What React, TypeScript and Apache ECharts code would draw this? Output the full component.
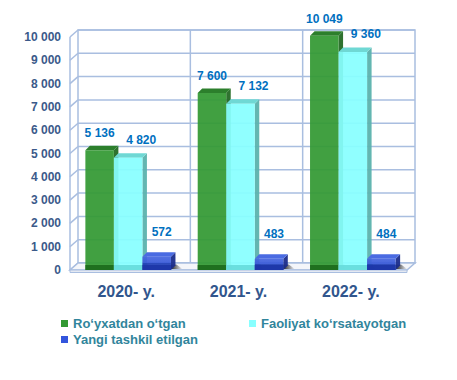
import React, { useEffect, useRef } from "react";
import * as echarts from "echarts";

const categories = ["2020- y.", "2021- y.", "2022- y."];
const registered = [5136, 7600, 10049];
const active = [4820, 7132, 9360];
const created = [572, 483, 484];
const seriesNames = ["Ro‘yxatdan o‘tgan", "Faoliyat ko‘rsatayotgan", "Yangi tashkil etilgan"];
const yTicks = [0, 1000, 2000, 3000, 4000, 5000, 6000, 7000, 8000, 9000, 10000];

const fmt = (v: number) => String(v).replace(/\B(?=(\d{3})+(?!\d))/g, " ");

const GRID = "#a9bee0";
const BACK_DX = 8;
const BACK_DY = 7;

const barStyles = [
  { front: "#339933", top: "#2c7f2c", side: "#246a24", bottom: "#1c6a1c", lx: 0, ly: 17 },
  { front: "#88ffff", top: "#6fd8d4", side: "#5bb2ad", bottom: "#66dcdc", lx: 13, ly: 18 },
  { front: "#2a4bcc", top: "#4a6be2", side: "#1b2d8c", bottom: "#1d36a8", lx: 5, ly: 25 },
];

export default function App() {
  const ref = useRef<HTMLDivElement>(null);
  useEffect(() => {
    if (!ref.current) return;
    const chart = echarts.init(ref.current, undefined, { renderer: "svg" });

    const wallsSeries: any = {
      type: "custom",
      name: "walls",
      silent: true,
      clip: false,
      z: 1,
      encode: { x: 0, y: 1 },
      data: yTicks.map((v) => [0, v]),
      renderItem: (params: any, api: any) => {
        const cs = params.coordSys;
        const v = api.value(1);
        const y = api.coord([0, v])[1];
        const x0 = cs.x;
        const x1 = cs.x + cs.width;
        const children: any[] = [];
        const ls = { stroke: GRID, lineWidth: 1.5 };
        if (params.dataIndex === 0) {
          children.push({
            type: "rect",
            shape: { x: x0 + BACK_DX, y: cs.y - BACK_DY, width: cs.width, height: cs.height },
            style: { fill: "#ffffff", stroke: GRID, lineWidth: 1.5 },
          });
          children.push({ type: "line", shape: { x1: x0, y1: cs.y, x2: x0, y2: cs.y + cs.height }, style: ls });
          for (let i = 1; i < categories.length; i++) {
            const xx = x0 + (cs.width * i) / categories.length + BACK_DX;
            children.push({ type: "line", shape: { x1: xx, y1: cs.y - BACK_DY, x2: xx, y2: cs.y + cs.height - BACK_DY }, style: ls });
          }
        }
        children.push({ type: "line", shape: { x1: x0 + BACK_DX, y1: y - BACK_DY, x2: x1 + BACK_DX, y2: y - BACK_DY }, style: ls });
        children.push({ type: "line", shape: { x1: x0, y1: y, x2: x0 + BACK_DX, y2: y - BACK_DY }, style: ls });
        if (v === 0) {
          const yb = y;
          children.push({
            type: "polygon",
            shape: { points: [[x0, yb], [x1, yb], [x1 + BACK_DX, yb - BACK_DY], [x0 + BACK_DX, yb - BACK_DY]] },
            style: { fill: "#f4f6fa", stroke: GRID, lineWidth: 1.5 },
          });
          children.push({
            type: "rect",
            shape: { x: x0, y: yb, width: cs.width, height: 2.5 },
            style: { fill: "#e4e9f2", stroke: GRID, lineWidth: 1 },
          });
        }
        return { type: "group", children };
      },
    };

    const makeBar = (k: number, values: number[]) => {
      const st = barStyles[k];
      return {
        type: "custom",
        name: seriesNames[k],
        clip: false,
        z: 2 + k,
        encode: { x: 0, y: 1 },
        itemStyle: { color: st.front },
        data: values.map((v, i) => [i, v]),
        renderItem: (params: any, api: any) => {
          const cat = api.value(0);
          const val = api.value(1);
          const [cx, yTop] = api.coord([cat, val]);
          const y0 = api.coord([cat, 0])[1];
          const band = api.size([1, 0])[0];
          const bw = band * 0.254;
          const dx = 4.5;
          const dy = 4.5;
          const left = cx + 2 - 1.5 * bw + k * bw;
          const h = y0 - yTop;
          const children: any[] = [];
          children.push({
            type: "polygon",
            shape: { points: [[left + bw, y0 - 1], [left + bw + dx + 7, y0 - 1], [left + bw + dx + 1, y0 - dy - 1], [left + bw, y0 - dy - 1]] },
            style: {
              fill: new echarts.graphic.LinearGradient(0, 0, 1, 0, [
                { offset: 0, color: "rgba(0,0,0,0.85)" },
                { offset: 1, color: "rgba(0,0,0,0)" },
              ]),
            },
          });
          children.push({
            type: "polygon",
            shape: { points: [[left + bw, yTop], [left + bw + dx, yTop - dy], [left + bw + dx, y0 - dy], [left + bw, y0]] },
            style: { fill: st.side, opacity: 0.95 },
          });
          children.push({
            type: "polygon",
            shape: { points: [[left, yTop], [left + bw, yTop], [left + bw + dx, yTop - dy], [left + dx, yTop - dy]] },
            style: { fill: st.top },
          });
          children.push({
            type: "rect",
            shape: { x: left, y: yTop, width: bw, height: h },
            style: {
              fill:
                k === 2
                  ? new echarts.graphic.LinearGradient(0, 0, 0, 1, [
                      { offset: 0, color: "#4566e0" },
                      { offset: 0.45, color: "#3a5ad8" },
                      { offset: 0.5, color: "#2040b8" },
                      { offset: 1, color: "#1d3aae" },
                    ])
                  : st.front,
              opacity: 0.93,
            },
          });
          children.push({
            type: "rect",
            shape: { x: left, y: Math.max(yTop, y0 - 5), width: bw, height: Math.min(5, h) },
            style: { fill: st.bottom, opacity: 0.9 },
          });
          children.push({
            type: "text",
            x: left + bw / 2 + st.lx,
            y: yTop - st.ly,
            style: {
              text: fmt(val),
              fill: "#0070c0",
              font: "bold 12px 'Liberation Sans', Arial, sans-serif",
              align: "center",
              verticalAlign: "middle",
            },
          });
          return { type: "group", children };
        },
      };
    };

    const legendText = {
      color: "#31859c",
      fontWeight: "bold",
      fontSize: 13,
      fontFamily: "'Liberation Sans', Arial, sans-serif",
    };

    chart.setOption({
      animation: false,
      grid: { left: 70, top: 37, width: 337, height: 233 },
      xAxis: {
        type: "category",
        data: categories,
        axisLine: { show: false },
        axisTick: { show: false },
        splitLine: { show: false },
        axisLabel: {
          margin: 13,
          color: "#31568d",
          fontWeight: "bold",
          fontSize: 16,
          fontFamily: "'Liberation Sans', Arial, sans-serif",
        },
      },
      yAxis: {
        type: "value",
        min: 0,
        max: 10000,
        interval: 1000,
        axisLine: { show: false },
        axisTick: { show: false },
        splitLine: { show: false },
        axisLabel: {
          margin: 9,
          color: "#3b5a8a",
          fontWeight: "bold",
          fontSize: 12,
          fontFamily: "'Liberation Sans', Arial, sans-serif",
          formatter: (v: number) => fmt(v),
        },
      },
      legend: [
        {
          orient: "vertical",
          left: 56,
          top: 312,
          itemWidth: 7,
          itemHeight: 7,
          itemGap: 3,
          icon: "rect",
          selectedMode: false,
          textStyle: legendText,
          data: [
            { name: seriesNames[0], itemStyle: { color: "#339933" } },
            { name: seriesNames[2], itemStyle: { color: "#3355dd" } },
          ],
        },
        {
          orient: "vertical",
          left: 244,
          top: 312,
          itemWidth: 7,
          itemHeight: 7,
          icon: "rect",
          selectedMode: false,
          textStyle: legendText,
          data: [{ name: seriesNames[1], itemStyle: { color: "#88ffff" } }],
        },
      ],
      series: [wallsSeries, makeBar(0, registered), makeBar(1, active), makeBar(2, created)],
    });
    return () => chart.dispose();
  }, []);
  return <div ref={ref} style={{ position: "absolute", left: 0, top: 0, width: 457, height: 380 }} />;
}
